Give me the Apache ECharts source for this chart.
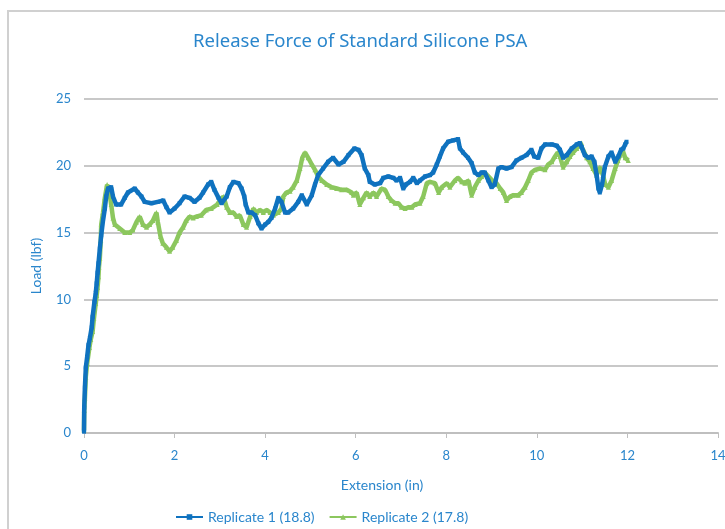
<!DOCTYPE html>
<html>
<head>
<meta charset="utf-8">
<script src="https://cdn.jsdelivr.net/npm/echarts@6/dist/echarts.min.js"></script>
<style>
  html, body { margin: 0; padding: 0; background: #fff; }
  #chart { width: 725px; height: 529px; }
</style>
</head>
<body>
<div id="chart"></div>
<script>
// Replicate 1 – extension (in) and load (lbf)
var ext1 = [
  0, 0.005, 0.02, 0.04, 0.07, 0.10, 0.13, 0.17, 0.19, 0.23,
  0.26, 0.28, 0.30, 0.32, 0.35, 0.38, 0.42, 0.46, 0.49, 0.53,
  0.60, 0.64, 0.71, 0.82, 0.90, 0.97, 1.12, 1.19, 1.27, 1.34,
  1.49, 1.63, 1.75, 1.82, 1.89, 2.00, 2.11, 2.22, 2.33, 2.44,
  2.55, 2.63, 2.74, 2.81, 2.88, 2.97, 3.04, 3.15, 3.22, 3.30,
  3.41, 3.48, 3.54, 3.57, 3.63, 3.70, 3.78, 3.85, 3.92, 4.00,
  4.07, 4.14, 4.22, 4.29, 4.36, 4.44, 4.51, 4.62, 4.73, 4.81,
  4.92, 5.03, 5.10, 5.17, 5.28, 5.39, 5.50, 5.62, 5.73, 5.84,
  5.97, 6.06, 6.13, 6.20, 6.28, 6.31, 6.42, 6.54, 6.61, 6.72,
  6.83, 6.90, 6.98, 7.05, 7.11, 7.20, 7.27, 7.35, 7.42, 7.53,
  7.64, 7.71, 7.79, 7.86, 7.93, 8.04, 8.15, 8.26, 8.30, 8.37,
  8.48, 8.56, 8.63, 8.71, 8.78, 8.85, 8.93, 9.00, 9.07, 9.15,
  9.22, 9.33, 9.44, 9.55, 9.66, 9.77, 9.88, 9.94, 10.03, 10.10,
  10.18, 10.33, 10.44, 10.51, 10.58, 10.66, 10.77, 10.88, 10.95, 10.99,
  11.06, 11.14, 11.21, 11.27, 11.32, 11.36, 11.39, 11.44, 11.50, 11.58,
  11.65, 11.73, 11.80, 11.86, 11.91, 11.95, 11.98
];
var load1 = [
  0.1, 1.9, 3.4, 4.9, 5.7, 6.6, 7.1, 7.9, 8.7, 9.8,
  10.5, 11.2, 12.0, 12.7, 13.8, 14.8, 15.9, 16.8, 17.7, 18.3,
  18.4, 17.7, 17.1, 17.1, 17.6, 18.0, 18.3, 18.0, 17.7, 17.3,
  17.2, 17.3, 17.4, 16.9, 16.5, 16.8, 17.2, 17.7, 17.6, 17.3,
  17.6, 18.0, 18.6, 18.8, 18.2, 17.6, 17.2, 17.7, 18.4, 18.8,
  18.7, 18.3, 17.7, 17.1, 16.5, 16.5, 16.3, 15.7, 15.3, 15.6,
  15.8, 16.1, 16.8, 17.6, 17.3, 16.5, 16.5, 16.8, 17.3, 17.8,
  17.1, 17.8, 18.6, 19.3, 19.8, 20.3, 20.6, 20.1, 20.3, 20.8,
  21.3, 21.2, 20.8, 19.8, 19.3, 18.8, 18.6, 18.7, 19.1, 19.2,
  19.1, 18.9, 19.1, 18.3, 18.6, 18.8, 19.1, 18.7, 18.9, 19.2,
  19.3, 19.5, 20.1, 20.7, 21.3, 21.8, 21.9, 22.0, 21.3, 21.0,
  20.6, 20.2, 19.5, 19.3, 19.5, 19.5, 18.9, 18.4, 18.6, 19.8,
  19.9, 19.8, 19.9, 20.4, 20.6, 20.8, 21.2, 20.7, 20.6, 21.3,
  21.6, 21.6, 21.5, 21.2, 20.6, 20.8, 21.3, 21.6, 21.7, 21.4,
  20.8, 20.6, 20.7, 20.3, 19.3, 18.3, 18.0, 18.6, 19.9, 20.7,
  21.0, 20.3, 20.7, 21.2, 21.3, 21.6, 21.8
];

// Replicate 2
var ext2 = [
  0, 0.005, 0.02, 0.04, 0.07, 0.12, 0.15, 0.19, 0.22, 0.26,
  0.28, 0.30, 0.32, 0.33, 0.35, 0.37, 0.38, 0.42, 0.46, 0.51,
  0.56, 0.60, 0.64, 0.68, 0.79, 0.90, 1.01, 1.08, 1.16, 1.23,
  1.30, 1.38, 1.45, 1.52, 1.60, 1.63, 1.69, 1.74, 1.82, 1.89,
  1.96, 2.04, 2.11, 2.19, 2.26, 2.33, 2.41, 2.48, 2.59, 2.70,
  2.81, 2.94, 3.00, 3.08, 3.15, 3.22, 3.30, 3.37, 3.44, 3.52,
  3.59, 3.67, 3.74, 3.81, 3.89, 3.96, 4.03, 4.11, 4.18, 4.29,
  4.36, 4.40, 4.47, 4.55, 4.62, 4.70, 4.77, 4.82, 4.88, 4.95,
  5.03, 5.10, 5.17, 5.25, 5.36, 5.47, 5.58, 5.69, 5.80, 5.91,
  5.95, 6.02, 6.09, 6.17, 6.24, 6.31, 6.39, 6.46, 6.57, 6.65,
  6.72, 6.79, 6.87, 6.94, 7.01, 7.09, 7.16, 7.24, 7.31, 7.42,
  7.49, 7.57, 7.64, 7.75, 7.83, 7.90, 8.01, 8.08, 8.19, 8.26,
  8.34, 8.41, 8.49, 8.56, 8.63, 8.71, 8.78, 8.85, 8.96, 9.04,
  9.11, 9.19, 9.26, 9.33, 9.41, 9.48, 9.59, 9.66, 9.74, 9.81,
  9.88, 9.96, 10.07, 10.18, 10.25, 10.33, 10.40, 10.46, 10.51, 10.58,
  10.66, 10.73, 10.80, 10.88, 10.95, 10.99, 11.02, 11.10, 11.17, 11.24,
  11.32, 11.39, 11.46, 11.51, 11.58, 11.65, 11.73, 11.79, 11.84, 11.89,
  11.95, 12.02
];
var load2 = [
  0.2, 1.7, 2.6, 4.2, 5.2, 6.4, 7.0, 7.6, 8.6, 9.7,
  10.3, 10.9, 11.7, 12.4, 13.1, 14.4, 15.6, 16.5, 17.6, 18.6,
  18.0, 17.1, 16.1, 15.6, 15.3, 15.0, 15.0, 15.2, 15.8, 16.2,
  15.6, 15.4, 15.6, 15.9, 16.5, 15.8, 14.7, 14.2, 13.9, 13.6,
  13.9, 14.4, 15.0, 15.4, 15.9, 16.2, 16.1, 16.2, 16.3, 16.7,
  16.8, 17.1, 17.4, 17.7, 16.9, 16.5, 16.5, 16.2, 16.3, 15.6,
  15.4, 16.2, 16.8, 16.5, 16.7, 16.5, 16.7, 16.5, 16.3, 16.5,
  16.8, 17.7, 18.0, 18.1, 18.4, 18.9, 19.8, 20.6, 21.0, 20.6,
  20.1, 19.7, 19.2, 18.9, 18.6, 18.4, 18.3, 18.2, 18.2, 18.0,
  17.8, 18.0, 17.1, 17.6, 18.0, 17.7, 18.0, 17.7, 18.3, 18.2,
  17.7, 17.4, 17.2, 17.2, 16.9, 16.8, 16.9, 16.9, 17.1, 17.2,
  17.7, 18.7, 18.8, 18.7, 18.0, 18.4, 18.7, 18.4, 18.9, 19.1,
  18.8, 18.7, 18.9, 17.8, 18.4, 18.9, 19.2, 19.5, 19.1, 18.8,
  18.7, 18.3, 18.0, 17.4, 17.7, 17.8, 17.8, 18.0, 18.4, 18.9,
  19.5, 19.7, 19.8, 19.7, 20.1, 20.3, 20.7, 21.0, 20.7, 19.9,
  20.3, 20.7, 21.0, 21.3, 21.6, 21.7, 21.2, 20.6, 20.3, 19.8,
  19.3, 19.9, 19.3, 18.6, 18.4, 18.9, 19.8, 20.4, 20.8, 21.2,
  20.6, 20.4
];

var xTicks = [0, 2, 4, 6, 8, 10, 12, 14];
var yTicks = [0, 5, 10, 15, 20, 25];

var blue = '#0f72bf';
var green = '#8cc75e';
var textBlue = '#2a86cc';
var font = 'Lato';

function pairs(xs, ys) {
  return xs.map(function (x, i) { return [x, ys[i]]; });
}

var myChart = echarts.init(document.getElementById('chart'));

var option = {
  animation: false,
  textStyle: { fontFamily: font },
  title: {
    text: 'Release Force of Standard Silicone PSA',
    left: 188,
    top: 27,
    textStyle: { color: textBlue, fontSize: 18.5, fontWeight: 'normal', fontFamily: 'Noto Sans' }
  },
  graphic: [{
    type: 'rect',
    shape: { x: 8, y: 11, width: 800, height: 600 },
    style: { fill: 'none', stroke: '#d0d0d0', lineWidth: 2 },
    silent: true
  }],
  legend: {
    left: 170,
    top: 505,
    itemWidth: 27,
    itemHeight: 7,
    itemGap: 14,
    textStyle: { color: textBlue, fontSize: 14, fontFamily: font },
    data: ['Replicate 1 (18.8)', 'Replicate 2 (17.8)']
  },
  grid: { left: 84, right: 7, top: 99, bottom: 96, containLabel: false, outerBoundsMode: 'none' },
  xAxis: {
    type: 'value',
    min: xTicks[0],
    max: xTicks[xTicks.length - 1],
    interval: 2,
    name: 'Extension (in)',
    nameLocation: 'middle',
    nameGap: 45,
    nameTextStyle: { color: textBlue, fontSize: 14, fontFamily: font, padding: [0, 38, 0, 0] },
    axisLine: { show: true, onZero: false, lineStyle: { color: '#bfbfbf', width: 2 } },
    axisTick: { show: true, length: 5, lineStyle: { color: '#bfbfbf', width: 1 } },
    axisLabel: { color: textBlue, fontSize: 13, margin: 16 },
    splitLine: { show: false }
  },
  yAxis: {
    type: 'value',
    min: yTicks[0],
    max: yTicks[yTicks.length - 1],
    interval: 5,
    name: 'Load (lbf)',
    nameLocation: 'middle',
    nameGap: 41,
    nameTextStyle: { color: textBlue, fontSize: 14, fontFamily: font },
    axisLine: { show: false },
    axisTick: { show: false },
    axisLabel: { color: textBlue, fontSize: 13, margin: 13 },
    splitLine: { show: true, lineStyle: { color: '#c8c8c8', width: 2 } }
  },
  series: [
    {
      name: 'Replicate 1 (18.8)',
      type: 'line',
      data: pairs(ext1, load1),
      symbol: 'rect',
      symbolSize: 4,
      showAllSymbol: true,
      itemStyle: { color: blue },
      lineStyle: { color: blue, width: 4.5 },
      z: 3
    },
    {
      name: 'Replicate 2 (17.8)',
      type: 'line',
      data: pairs(ext2, load2),
      symbol: 'triangle',
      symbolSize: 5,
      showAllSymbol: true,
      itemStyle: { color: green },
      lineStyle: { color: green, width: 4.5 },
      z: 2
    }
  ]
};

myChart.setOption(option);
</script>
</body>
</html>
